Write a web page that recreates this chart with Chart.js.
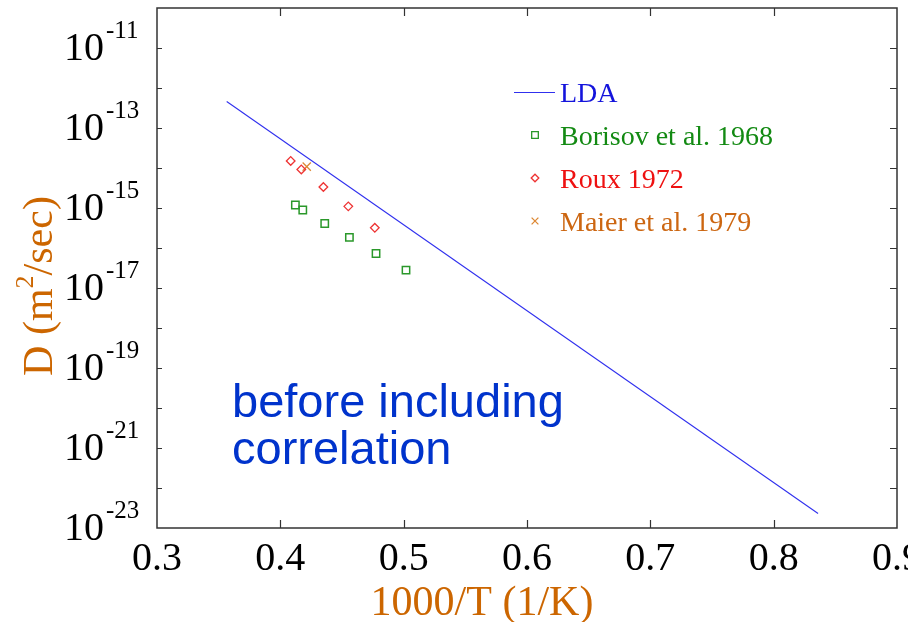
<!DOCTYPE html>
<html><head><meta charset="utf-8">
<script src="https://cdn.jsdelivr.net/npm/chart.js@4.4.1/dist/chart.umd.min.js"></script>
<style>html,body{margin:0;padding:0;background:#fff;} canvas{display:block;}</style>
</head><body>
<canvas id="c" width="908" height="622"></canvas>
<script>
// ---- data ----
const xTickValues = [0.3, 0.4, 0.5, 0.6, 0.7, 0.8, 0.9];
const yDecadeExponents = [-22, -21, -20, -19, -18, -17, -16, -15, -14, -13, -12, -11];
const yLabelExponents = [-23, -21, -19, -17, -15, -13, -11];

const ldaX = [0.3565, 0.836];
const ldaD = [4.6e-13, 2.3e-23];

const borisovX = [0.4122, 0.4182, 0.4360, 0.4560, 0.4776, 0.5019];
const borisovD = [1.19e-15, 8.9e-16, 4.1e-16, 1.84e-16, 7.3e-17, 2.8e-17];

const rouxX = [0.4084, 0.4170, 0.4349, 0.4551, 0.4766];
const rouxD = [1.50e-14, 9.2e-15, 3.35e-15, 1.10e-15, 3.2e-16];

const maierX = [0.4214];
const maierD = [1.08e-14];

const seriesLabels = ['LDA', 'Borisov et al. 1968', 'Roux 1972', 'Maier et al. 1979'];
const annotationLines = ['before including', 'correlation'];
const xTitleText = '1000/T (1/K)';
const yTitleParts = ['D (m', '2', '/sec)'];

const pts = (xs, ys) => xs.map((x, i) => ({x: x, y: ys[i]}));

const SERIF = '"Liberation Serif", "Times New Roman", serif';
const SANS = '"Liberation Sans", Arial, sans-serif';
const TITLE_COLOR = '#cc6600';

const legendText = ['#1414dc', '#138a13', '#ee1111', '#cc6611'];

const decor = {
  id: 'decor',
  afterDraw(chart) {
    const ctx = chart.ctx, ca = chart.chartArea;
    const xs = chart.scales.x, ys = chart.scales.y;
    ctx.save();
    // frame
    ctx.strokeStyle = '#333';
    ctx.lineWidth = 1.5;
    ctx.strokeRect(ca.left, ca.top, ca.right - ca.left, ca.bottom - ca.top);
    // x ticks (inward)
    ctx.lineWidth = 1.2;
    xTickValues.forEach(v => {
      const px = Math.round(xs.getPixelForValue(v)) + 0.5;
      if (px < ca.left + 2 || px > ca.right - 2) return;
      ctx.beginPath();
      ctx.moveTo(px, ca.bottom); ctx.lineTo(px, ca.bottom - 8);
      ctx.moveTo(px, ca.top); ctx.lineTo(px, ca.top + 8);
      ctx.stroke();
    });
    // y ticks (inward)
    yDecadeExponents.forEach(e => {
      const py = Math.round(ys.getPixelForValue(Math.pow(10, e))) + 0.5;
      ctx.beginPath();
      ctx.moveTo(ca.left, py); ctx.lineTo(ca.left + 5, py);
      ctx.moveTo(ca.right, py); ctx.lineTo(ca.right - 7, py);
      ctx.stroke();
    });
    // y tick labels with superscripts
    ctx.fillStyle = '#000';
    ctx.textBaseline = 'alphabetic';
    yLabelExponents.forEach(e => {
      const py = ys.getPixelForValue(Math.pow(10, e));
      ctx.font = '40px ' + SERIF;
      ctx.textAlign = 'right';
      ctx.fillText('10', ca.left - 53, py + 11.5);
      ctx.font = '25px ' + SERIF;
      ctx.textAlign = 'left';
      ctx.fillText('-' + Math.abs(e), ca.left - 51, py - 10);
    });
    // x title
    ctx.fillStyle = TITLE_COLOR;
    ctx.font = '42px ' + SERIF;
    ctx.textAlign = 'center';
    ctx.fillText(xTitleText, ca.left + 325, 615);
    // y title (rotated, with superscript)
    ctx.save();
    ctx.translate(52, 286);
    ctx.rotate(-Math.PI / 2);
    ctx.font = '42px ' + SERIF;
    const w0 = ctx.measureText(yTitleParts[0]).width;
    const w2 = ctx.measureText(yTitleParts[2]).width;
    ctx.font = '26px ' + SERIF;
    const w1 = ctx.measureText(yTitleParts[1]).width;
    let sx = -(w0 + w1 + w2) / 2;
    ctx.textAlign = 'left';
    ctx.font = '42px ' + SERIF;
    ctx.fillText(yTitleParts[0], sx, 0); sx += w0;
    ctx.font = '26px ' + SERIF;
    ctx.fillText(yTitleParts[1], sx, -19); sx += w1;
    ctx.font = '42px ' + SERIF;
    ctx.fillText(yTitleParts[2], sx, 0);
    ctx.restore();
    // legend
    const lx = ca.left + 357, ty = ca.top + 84;
    const rowH = 43;
    chart.data.datasets.forEach((ds, i) => {
      const y = ty + i * rowH;
      if (i === 0) {
        ctx.strokeStyle = ds.borderColor;
        ctx.lineWidth = ds.borderWidth;
        ctx.beginPath();
        ctx.moveTo(lx, y + 0.5); ctx.lineTo(lx + 41, y + 0.5);
        ctx.stroke();
      } else {
        ctx.strokeStyle = ds.borderColor;
        ctx.fillStyle = 'rgba(0,0,0,0)';
        ctx.lineWidth = 1.3;
        Chart.helpers.drawPoint(ctx, {pointStyle: ds.pointStyle, radius: ds.legendRadius, borderWidth: 1.3, rotation: 0}, lx + 21, y);
      }
      ctx.fillStyle = legendText[i];
      ctx.font = '28px ' + SERIF;
      ctx.textAlign = 'left';
      ctx.fillText(ds.label, lx + 46, y + 9.5);
    });
    // annotation
    ctx.fillStyle = '#0033cc';
    ctx.font = '47px ' + SANS;
    ctx.textAlign = 'left';
    annotationLines.forEach((t, i) => ctx.fillText(t, ca.left + 75, ca.top + 409 + i * 47));
    ctx.restore();
  }
};

new Chart(document.getElementById('c'), {
  type: 'scatter',
  data: {
    datasets: [
      {label: seriesLabels[0], data: pts(ldaX, ldaD), showLine: true, borderColor: '#3030ee', borderWidth: 1.1, pointRadius: 0, fill: false},
      {label: seriesLabels[1], data: pts(borisovX, borisovD), pointStyle: 'rect', pointRadius: 5.2, legendRadius: 4.7, borderColor: '#2a982a', backgroundColor: 'rgba(0,0,0,0)', borderWidth: 1.5},
      {label: seriesLabels[2], data: pts(rouxX, rouxD), pointStyle: 'rectRot', pointRadius: 4.3, legendRadius: 3.8, borderColor: '#ee3333', backgroundColor: 'rgba(0,0,0,0)', borderWidth: 1.3},
      {label: seriesLabels[3], data: pts(maierX, maierD), pointStyle: 'crossRot', pointRadius: 5.8, legendRadius: 4.8, borderColor: '#dd8833', backgroundColor: 'rgba(0,0,0,0)', borderWidth: 1.3}
    ]
  },
  options: {
    responsive: false,
    animation: false,
    devicePixelRatio: 1,
    layout: {padding: {left: 0, top: 8, right: 11, bottom: 0}},
    plugins: {legend: {display: false}, tooltip: {enabled: false}},
    scales: {
      x: {
        type: 'linear', min: 0.3, max: 0.9,
        grid: {display: false, drawTicks: false},
        border: {display: false},
        ticks: {
          stepSize: 0.1, autoSkip: false, maxRotation: 0, minRotation: 0, padding: 7,
          color: '#000', font: {family: SERIF, size: 40},
          callback: v => Number(v).toFixed(1)
        },
        afterBuildTicks: s => { s.ticks = xTickValues.map(v => ({value: v})); },
        afterFit: s => { s.height = 94; s.paddingLeft = 0; s.paddingRight = 0; }
      },
      y: {
        type: 'logarithmic', min: 1e-23, max: 1e-10,
        grid: {display: false, drawTicks: false},
        border: {display: false},
        ticks: {display: false},
        afterFit: s => { s.width = 157; s.paddingTop = 0; s.paddingBottom = 0; }
      }
    }
  },
  plugins: [decor]
});
</script>
</body></html>
